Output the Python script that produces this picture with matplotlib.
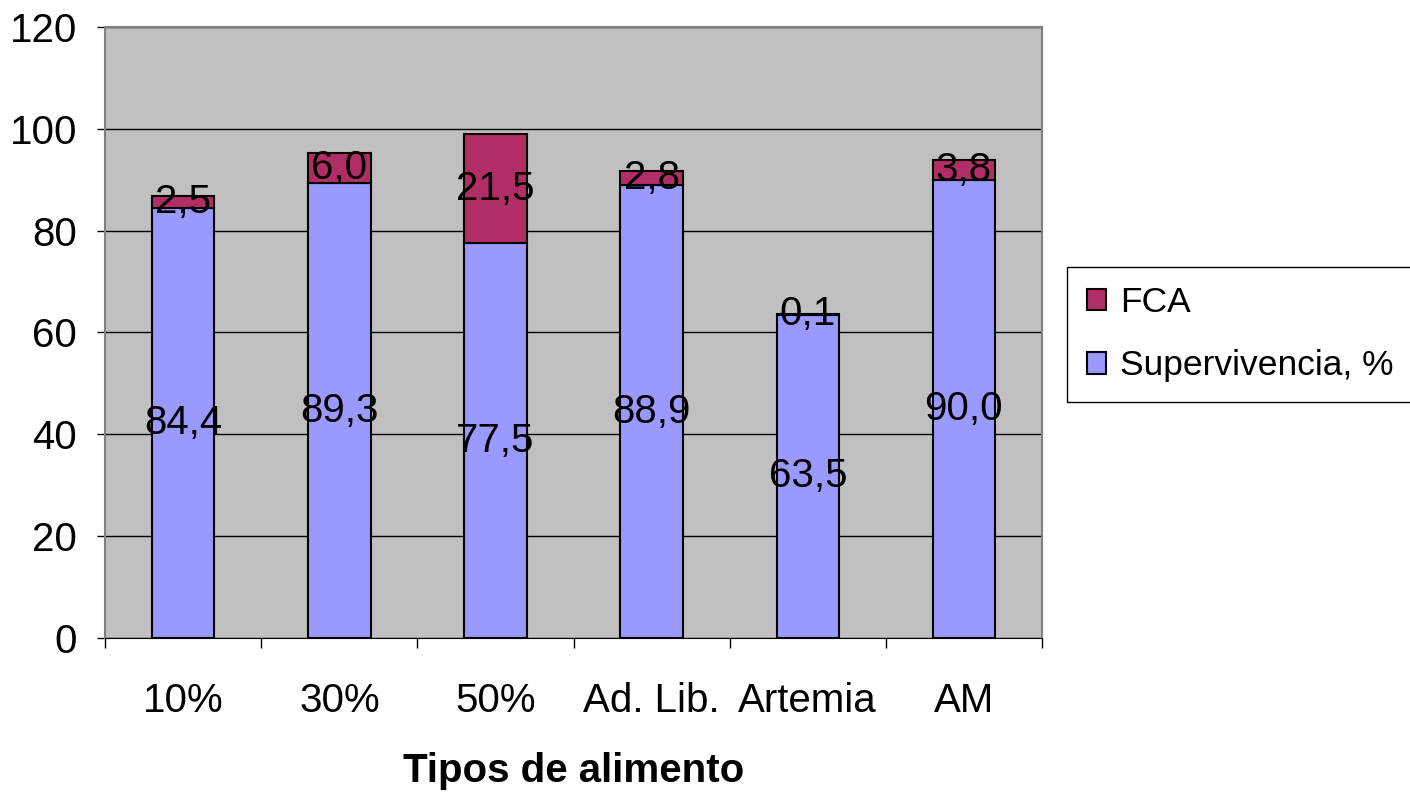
import matplotlib
matplotlib.use('Agg')
import matplotlib.pyplot as plt
import numpy as np

categorias = ['10%', '30%', '50%', 'Ad. Lib.', 'Artemia', 'AM']
supervivencia = [84.4, 89.3, 77.5, 88.9, 63.5, 90.0]
fca = [2.5, 6.0, 21.5, 2.8, 0.1, 3.8]

plt.rcParams['font.family'] = ['Liberation Sans', 'DejaVu Sans']

fig = plt.figure(figsize=(14.1, 7.94), dpi=100)
ax = fig.add_axes([0.0745, 0.1965, 0.6645, 0.7695])
ax.set_facecolor('#C0C0C0')

x = np.arange(len(categorias))
b1 = ax.bar(x, supervivencia, width=0.4, color='#9999FF', edgecolor='black', linewidth=1.5,
            label='Supervivencia, %', zorder=3)
b2 = ax.bar(x, fca, width=0.4, bottom=supervivencia, color='#B02E64', edgecolor='black',
            linewidth=1.5, label='FCA', zorder=3)

fmt = lambda v: f'{v:.1f}'.replace('.', ',')
for i in range(len(x)):
    ax.text(x[i], supervivencia[i] / 2, fmt(supervivencia[i]), ha='center', va='center',
            fontsize=29, zorder=4)
    ax.text(x[i], supervivencia[i] + fca[i] / 2, fmt(fca[i]), ha='center', va='center',
            fontsize=29, zorder=4)

ax.set_xlim(-0.5, len(x) - 0.5)
ax.set_ylim(0, 120)
ax.set_yticks(range(0, 121, 20))
ax.yaxis.grid(True, color='black', linewidth=1, zorder=1)
ax.tick_params(axis='y', labelsize=29, length=6, width=1, pad=14)

ax.set_xticks(x)
ax.set_xticklabels(categorias)
ax.set_xticks(np.arange(-0.5, len(x), 1), minor=True)
ax.tick_params(axis='x', which='major', length=0, labelsize=29, pad=32)
ax.tick_params(axis='x', which='minor', length=7, width=1)

for s in ['top', 'right']:
    ax.spines[s].set_color('#808080')
    ax.spines[s].set_linewidth(1.5)
ax.spines['left'].set_color('#808080')
ax.spines['left'].set_linewidth(1.5)
ax.spines['bottom'].set_color('black')

ax.set_xlabel('Tipos de alimento', fontsize=29, fontweight='bold', labelpad=23)

leg = fig.legend([b2, b1], ['FCA', 'Supervivencia, %'], loc='upper left',
                 bbox_to_anchor=(0.757, 0.664), fontsize=25.5, frameon=True, fancybox=False,
                 edgecolor='black', framealpha=1, handlelength=0.55, handleheight=0.55,
                 handletextpad=0.4, borderpad=0.55, labelspacing=0.85, borderaxespad=0)
leg.get_frame().set_linewidth(1)

fig.savefig('out.png', dpi=100)
